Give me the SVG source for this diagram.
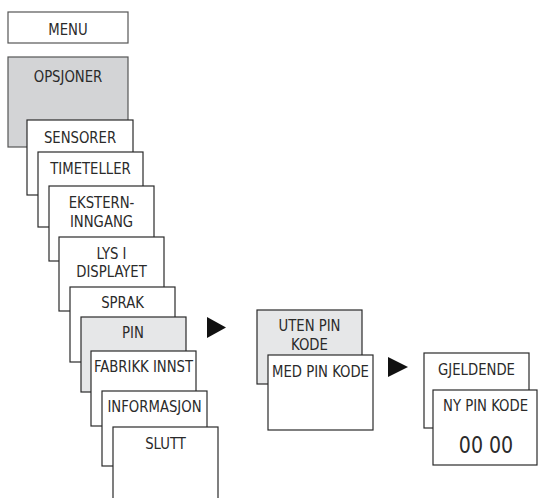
<svg xmlns="http://www.w3.org/2000/svg" width="538" height="498" viewBox="0 0 538 498">
<style>
.b{fill:#fff;stroke:#2a2a2a;stroke-width:1.2}
.g1{fill:#d3d4d6;stroke:#555;stroke-width:1.2}
.g2{fill:#e6e7e8;stroke:#2a2a2a;stroke-width:1.2}
.m{fill:#fff;stroke:#555;stroke-width:1.2}
text{font-family:"DejaVu Sans Condensed","DejaVu Sans",sans-serif;font-size:16px;fill:#2a2a2a;text-anchor:middle}
.big{font-size:23px}
.arr{fill:#111}
</style>
<g id="menu"><rect class="m" x="8" y="12" width="120" height="31"/><text transform="translate(68,35) scale(0.92,1)">MENU</text></g>
<g id="opsjoner"><rect class="g1" x="8" y="57" width="120" height="90"/><text transform="translate(68,82) scale(0.92,1)">OPSJONER</text></g>
<g id="sensorer"><rect class="b" x="27" y="120" width="106" height="75"/><text transform="translate(80,143) scale(0.92,1)">SENSORER</text></g>
<g id="timeteller"><rect class="b" x="38" y="152" width="105" height="75"/><text transform="translate(90.5,174) scale(0.92,1)">TIMETELLER</text></g>
<g id="eksterninngang"><rect class="b" x="49" y="186" width="105" height="75"/><text transform="translate(101.5,208) scale(0.92,1)">EKSTERN-</text><text transform="translate(101.5,227) scale(0.92,1)">INNGANG</text></g>
<g id="lysidisplayet"><rect class="b" x="59" y="237" width="105" height="74"/><text transform="translate(111.5,259) scale(0.92,1)">LYS I</text><text transform="translate(111.5,277) scale(0.92,1)">DISPLAYET</text></g>
<g id="sprak"><rect class="b" x="70" y="287" width="105" height="75"/><text transform="translate(122.5,308) scale(0.92,1)">SPRAK</text></g>
<g id="pin"><rect class="g2" x="81" y="317" width="105" height="75"/><text transform="translate(133,338) scale(0.92,1)">PIN</text></g>
<g id="fabrikkinnst"><rect class="b" x="91" y="351" width="105" height="75"/><text transform="translate(143.5,372) scale(0.92,1)">FABRIKK INNST</text></g>
<g id="informasjon"><rect class="b" x="102" y="391" width="105" height="75"/><text transform="translate(154.5,412) scale(0.92,1)">INFORMASJON</text></g>
<g id="slutt"><rect class="b" x="113" y="427" width="105" height="80"/><text transform="translate(165.5,449) scale(0.92,1)">SLUTT</text></g>
<g id="utenpinkode"><rect class="g2" x="257" y="310" width="105" height="74"/><text transform="translate(309.5,331) scale(0.92,1)">UTEN PIN</text><text transform="translate(309.5,350) scale(0.92,1)">KODE</text></g>
<g id="medpinkode"><rect class="b" x="268" y="355" width="105" height="75"/><text transform="translate(320.5,377) scale(0.92,1)">MED PIN KODE</text></g>
<g id="gjeldende"><rect class="b" x="424" y="353" width="105" height="75"/><text transform="translate(476.5,375) scale(0.92,1)">GJELDENDE</text></g>
<g id="nypinkode"><rect class="b" x="433" y="390" width="104" height="75"/><text transform="translate(485.5,411) scale(0.92,1)">NY PIN KODE</text><text class="big" transform="translate(486,453) scale(0.92,1)">00 00</text></g>
<g id="connectors">
<polygon class="arr" points="207,317 226,327.5 207,338"/>
<polygon class="arr" points="388,357 408,367 388,377"/>
</g>
</svg>
